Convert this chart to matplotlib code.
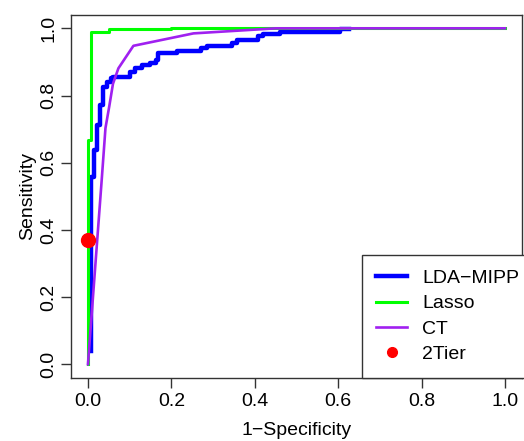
import numpy as np
import matplotlib.pyplot as plt

plt.rcParams['font.family'] = ['Liberation Sans', 'DejaVu Sans']

# ROC curves (corner points)
lda_fpr = [0.007, 0.007, 0.014, 0.021, 0.029, 0.037, 0.045, 0.055, 0.061, 0.102,
           0.112, 0.13, 0.148, 0.162, 0.168, 0.213, 0.27, 0.285, 0.345, 0.358,
           0.408, 0.42, 0.46, 0.604, 0.618, 0.625]
lda_tpr = [0.04, 0.558, 0.638, 0.712, 0.772, 0.826, 0.841, 0.851, 0.856, 0.871,
           0.881, 0.891, 0.896, 0.906, 0.927, 0.933, 0.94, 0.947, 0.957, 0.966,
           0.977, 0.983, 0.99, 0.997, 0.997, 0.999]

lasso_fpr = [0.0, 0.0, 0.007, 0.05, 0.2, 1.0]
lasso_tpr = [0.0, 0.667, 0.99, 0.998, 1.0, 1.0]

ct_fpr = [0.0, 0.033, 0.042, 0.051, 0.06, 0.073, 0.109, 0.253, 0.45, 1.0]
ct_tpr = [0.0, 0.549, 0.703, 0.767, 0.835, 0.881, 0.948, 0.985, 1.0, 1.0]

tier_fpr = [0.0]
tier_tpr = [0.37]

ticks = [0.0, 0.2, 0.4, 0.6, 0.8, 1.0]
tick_labels = ['0.0', '0.2', '0.4', '0.6', '0.8', '1.0']

fig = plt.figure(figsize=(5.24, 4.41), dpi=100)
ax = fig.add_axes([0.136, 0.1435, 0.8596, 0.8227])

ax.plot(lda_fpr, lda_tpr, color='#0000FF', lw=3.2, drawstyle='steps-post', label='LDA\u2212MIPP')
ax.plot(lasso_fpr, lasso_tpr, color='#00FF00', lw=2.2, drawstyle='steps-post', label='Lasso')
ax.plot(ct_fpr, ct_tpr, color='#A020F0', lw=1.9, label='CT')
ax.plot(tier_fpr, tier_tpr, 'o', color='#FF0000', ms=10, label='2Tier')

ax.set_xlim(-0.04, 1.04)
ax.set_ylim(-0.04, 1.04)
ax.set_xticks(ticks)
ax.set_xticklabels(tick_labels)
ax.set_yticks(ticks)
ax.set_yticklabels(tick_labels, rotation=90, va='center')
ax.tick_params(direction='out', length=7, width=1, labelsize=14, color='#333333')
ax.tick_params(axis='x', pad=4)
ax.tick_params(axis='y', pad=3)
for s in ax.spines.values():
    s.set_color('#333333')
    s.set_linewidth(1)

ax.set_xlabel('1\u2212Specificity', fontsize=14, labelpad=9)
ax.set_ylabel('Sensitivity', fontsize=14, labelpad=3)

leg = ax.legend(loc='lower left', bbox_to_anchor=(0.645, 0.0), borderaxespad=0,
                fontsize=14, fancybox=False, edgecolor='#333333', framealpha=1,
                handlelength=1.6, handletextpad=0.75, borderpad=0.75,
                labelspacing=0.4, markerscale=0.7)
leg.get_frame().set_linewidth(1)

fig.savefig('out.png', dpi=100)
